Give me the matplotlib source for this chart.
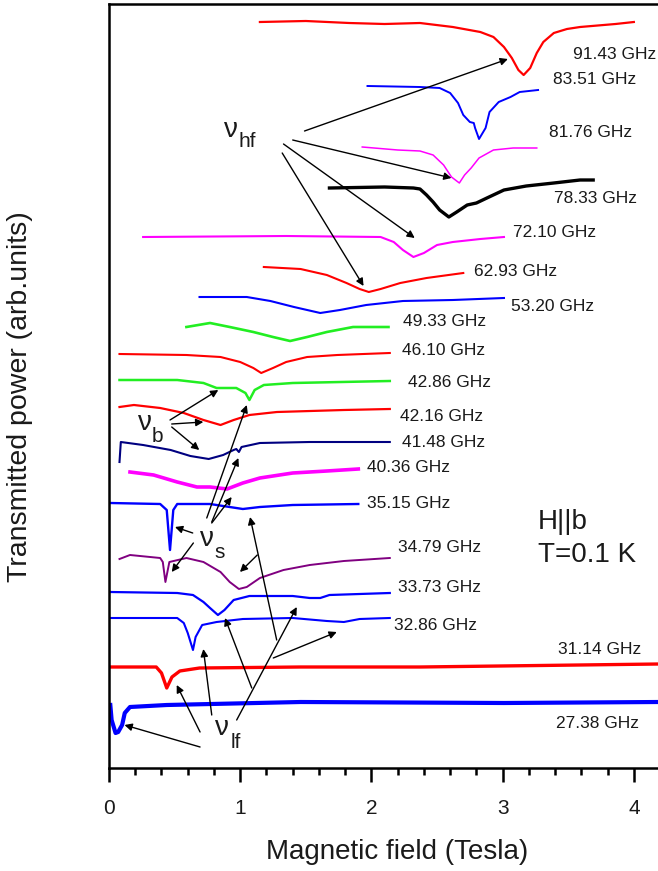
import matplotlib
matplotlib.use("Agg")
import matplotlib.pyplot as plt
from matplotlib.ticker import MultipleLocator

plt.rcParams['font.family'] = ['Liberation Sans', 'DejaVu Sans']

# ---------------- data (field in Tesla, signal = offset transmitted power, arb. units) -------------
f9143_B = [1.15, 1.50, 1.83, 2.10, 2.37, 2.62, 2.83, 2.93, 3.01, 3.07, 3.12, 3.16, 3.21, 3.26,
           3.31, 3.39, 3.49, 3.59, 3.86, 4.00]
f9143_P = [746, 747, 745, 744, 745, 741, 736, 731, 721, 710, 698, 693, 700, 715,
           726, 735, 739, 741, 744, 746]
f8351_B = [1.97, 2.37, 2.52, 2.60, 2.66, 2.70, 2.75, 2.78, 2.79, 2.82, 2.87, 2.90, 2.97, 3.06, 3.13, 3.27]
f8351_P = [682, 681, 680, 675, 665, 653, 646, 645, 640, 629, 640, 656, 666, 671, 676, 678]
f8176_B = [1.93, 2.20, 2.37, 2.47, 2.55, 2.61, 2.67, 2.71, 2.76, 2.82, 2.93, 3.08, 3.26]
f8176_P = [621, 618, 617, 613, 603, 591, 585, 593, 600, 610, 618, 620, 620]
f7833_B = [1.68, 2.10, 2.32, 2.37, 2.42, 2.47, 2.52, 2.59, 2.65, 2.73, 2.80, 2.88, 3.01, 3.18,
           3.39, 3.59, 3.69]
f7833_P = [580, 581, 580, 579, 573, 566, 558, 551, 556, 563, 565, 570, 578, 582,
           585, 588, 588]
f7210_B = [0.26, 1.35, 2.07, 2.17, 2.24, 2.32, 2.40, 2.50, 2.62, 2.83, 3.01]
f7210_P = [531, 532, 531, 526, 518, 511, 515, 523, 526, 529, 531]
f6293_B = [1.18, 1.46, 1.66, 1.81, 1.91, 1.98, 2.07, 2.22, 2.42, 2.70]
f6293_P = [501, 499, 493, 485, 479, 476, 479, 485, 490, 495]
f5320_B = [0.69, 1.05, 1.23, 1.41, 1.61, 1.76, 1.96, 2.24, 2.62, 3.01]
f5320_P = [471, 471, 467, 461, 455, 458, 463, 467, 468, 470]
f4933_B = [0.59, 0.77, 0.92, 1.10, 1.25, 1.38, 1.51, 1.66, 1.86, 2.13]
f4933_P = [441, 445, 441, 436, 431, 427, 431, 436, 441, 441]
f4610_B = [0.08, 0.59, 0.85, 1.00, 1.10, 1.16, 1.25, 1.35, 1.51, 1.74, 2.14]
f4610_P = [414, 413, 411, 406, 400, 395, 400, 406, 411, 413, 415]
f4286_B = [0.08, 0.52, 0.72, 0.82, 0.97, 1.04, 1.07, 1.11, 1.18, 1.40, 2.14]
f4286_P = [388, 388, 385, 380, 380, 375, 368, 378, 383, 385, 387]
f4216_B = [0.08, 0.19, 0.39, 0.57, 0.72, 0.85, 0.95, 1.07, 1.28, 1.79, 2.14]
f4216_P = [361, 363, 360, 355, 348, 343, 348, 353, 356, 358, 359]
f4148_B = [0.08, 0.09, 0.26, 0.47, 0.62, 0.76, 0.87, 0.95, 0.97, 0.99, 1.01, 1.15, 1.53, 2.14]
f4148_P = [306, 326, 323, 318, 312, 309, 313, 318, 319, 316, 321, 325, 326, 326]
f4036_B = [0.16, 0.34, 0.52, 0.67, 0.77, 0.90, 1.02, 1.15, 1.40, 1.66, 1.90]
f4036_P = [296, 293, 286, 281, 281, 279, 285, 290, 295, 297, 299]
f3515_B = [0.01, 0.39, 0.44, 0.465, 0.49, 0.52, 0.77, 0.92, 1.02, 1.15, 1.40, 1.90]
f3515_P = [265, 264, 258, 218, 258, 264, 264, 261, 259, 261, 263, 264]
f3479_B = [0.08, 0.16, 0.39, 0.41, 0.43, 0.46, 0.59, 0.72, 0.85, 0.92, 0.99, 1.05, 1.15, 1.33,
           1.53, 1.79, 2.14]
f3479_P = [209, 213, 210, 206, 186, 206, 210, 206, 196, 186, 179, 181, 190, 198,
           203, 207, 210]
f3373_B = [0.01, 0.52, 0.64, 0.72, 0.77, 0.83, 0.88, 0.95, 1.07, 1.40, 1.53, 1.61, 1.68, 2.14]
f3373_P = [176, 175, 173, 166, 160, 153, 158, 168, 172, 172, 170, 170, 173, 175]
f3286_B = [0.01, 0.52, 0.57, 0.60, 0.64, 0.66, 0.71, 0.82, 1.02, 1.40, 1.66, 1.79, 1.91, 2.14]
f3286_P = [150, 150, 145, 135, 118, 131, 143, 146, 149, 150, 147, 146, 149, 150]
f3114_B = [0.01, 0.36, 0.40, 0.44, 0.48, 0.54, 0.69, 1.46, 2.37, 4.19]
f3114_P = [101, 101, 95, 80, 91, 97, 100, 101, 101, 104]
f2738_B = [0.01, 0.02, 0.05, 0.07, 0.10, 0.12, 0.16, 0.44, 1.46, 3.01, 4.19]
f2738_P = [63, 48, 35, 36, 43, 55, 61, 63, 66, 65, 66]

freq_labels = ["91.43 GHz", "83.51 GHz", "81.76 GHz", "78.33 GHz", "72.10 GHz",
               "62.93 GHz", "53.20 GHz", "49.33 GHz", "46.10 GHz", "42.86 GHz",
               "42.16 GHz", "41.48 GHz", "40.36 GHz", "35.15 GHz", "34.79 GHz",
               "33.73 GHz", "32.86 GHz", "31.14 GHz", "27.38 GHz"]
label_B = [3.54, 3.38, 3.35, 3.39, 3.08, 2.78, 3.06, 2.24, 2.23, 2.28,
           2.22, 2.23, 1.97, 1.97, 2.20, 2.20, 2.17, 3.42, 3.41]
label_P = [713, 688, 635, 569, 535, 496, 461, 446, 417, 385,
           351, 325, 301, 265, 221, 180, 143, 119, 45]

fields = [f9143_B, f8351_B, f8176_B, f7833_B, f7210_B, f6293_B, f5320_B, f4933_B, f4610_B,
          f4286_B, f4216_B, f4148_B, f4036_B, f3515_B, f3479_B, f3373_B, f3286_B, f3114_B, f2738_B]
signals = [f9143_P, f8351_P, f8176_P, f7833_P, f7210_P, f6293_P, f5320_P, f4933_P, f4610_P,
           f4286_P, f4216_P, f4148_P, f4036_P, f3515_P, f3479_P, f3373_P, f3286_P, f3114_P, f2738_P]

# ---------------- styles ----------------
RED, BLUE, MAG, GRN = '#ff0000', '#0000ff', '#ff00ff', '#22ee22'
colors = [RED, BLUE, MAG, 'black', MAG, RED, BLUE, GRN, RED, GRN, RED, '#000080', MAG,
          BLUE, '#800080', BLUE, BLUE, RED, BLUE]
widths = [1.6, 1.4, 1.1, 2.4, 1.5, 1.5, 1.5, 1.9, 1.5, 1.8, 1.6, 1.5, 2.6,
          1.7, 1.4, 1.6, 1.5, 2.4, 3.0]

fig = plt.figure(figsize=(6.58, 8.71), dpi=100)
ax = fig.add_axes([109 / 658, 103 / 871, 549 / 658, 764 / 871])

for B, P, c, w in zip(fields, signals, colors, widths):
    ax.plot(B, P, color=c, lw=w, solid_joinstyle='round')

TXT = '#1a1a1a'
for s, x, y in zip(freq_labels, label_B, label_P):
    ax.text(x, y, s, fontsize=12.5, color=TXT, ha='left', va='center')

ax.text(3.27, 246, "H||b", fontsize=20, color=TXT, ha='left', va='center')
ax.text(3.27, 213, "T=0.1 K", fontsize=20, color=TXT, ha='left', va='center')

# nu labels (symbol + subscript)
nu_syms = [(0.88, 631, 'hf', 0.99, 621), (0.22, 338, 'b', 0.325, 326),
           (0.69, 222, 's', 0.80, 210), (0.81, 33, 'lf', 0.93, 20)]
for x, y, sub, xs, ys in nu_syms:
    ax.text(x, y, "ν", fontsize=20, color=TXT, ha='left', va='baseline')
    ax.text(xs, ys, sub, fontsize=15, color=TXT, ha='left', va='baseline')

# arrows: (start B, start P, end B, end P)
arrows = [
    (1.49, 637, 3.04, 709), (1.40, 628, 2.61, 590), (1.33, 624, 2.33, 530), (1.32, 615, 1.94, 482),
    (0.465, 348, 0.833, 378), (0.478, 344, 0.719, 346), (0.478, 341, 0.688, 318),
    (0.745, 250, 1.050, 363), (0.783, 246, 0.986, 310), (0.783, 245, 0.935, 271),
    (0.638, 235, 0.503, 241), (0.643, 225, 0.478, 196),
    (1.278, 128, 1.075, 251), (1.130, 213, 0.998, 196),
    (0.694, 21, 0.118, 43), (0.694, 36, 0.516, 83), (0.783, 53, 0.719, 119),
    (0.973, 48, 1.431, 161), (1.088, 80, 0.884, 150), (1.252, 110, 1.736, 136),
]
for x0, y0, x1, y1 in arrows:
    ax.annotate("", xy=(x1, y1), xytext=(x0, y0),
                arrowprops=dict(arrowstyle='-|>', color='black', lw=1.0,
                                mutation_scale=11, shrinkA=0, shrinkB=0))

ax.set_xlim(0, 4.184)
ax.set_ylim(0, 764)
ax.xaxis.set_major_locator(MultipleLocator(1))
ax.xaxis.set_minor_locator(MultipleLocator(0.2))
ax.set_yticks([])
ax.tick_params(axis='x', which='major', direction='out', length=10, width=1.8,
               labelsize=15, pad=12, colors='black', labelcolor=TXT)
ax.tick_params(axis='x', which='minor', direction='out', length=5, width=1.8)
for side in ['left', 'top', 'bottom']:
    ax.spines[side].set_linewidth(1.8)
ax.spines['right'].set_visible(False)

ax.set_xlabel("Magnetic field (Tesla)", fontsize=20, color=TXT, va='center')
ax.xaxis.set_label_coords(0.525, -0.110)
ax.set_ylabel("Transmitted power (arb.units)", fontsize=20.5, color=TXT, va='center')
ax.yaxis.set_label_coords(-0.162, 0.486)

fig.savefig("out.png", dpi=100)
